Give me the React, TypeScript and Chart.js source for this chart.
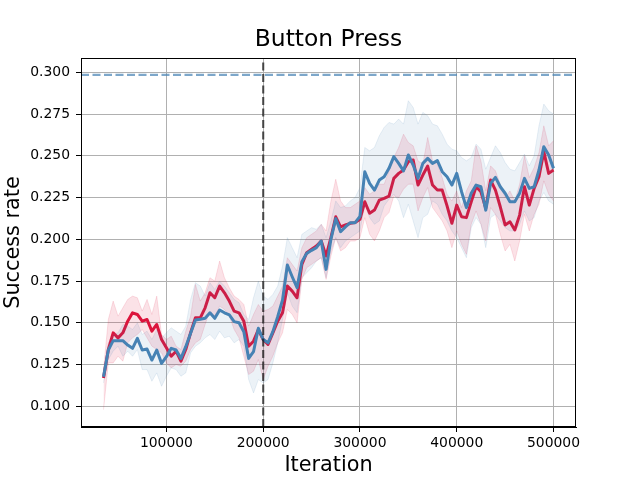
import React, { useEffect, useRef } from "react";
import { Chart, registerables } from "chart.js";

Chart.register(...registerables);

// ---- data ----
const iterations = [
  35000, 40000, 45000, 50000, 55000, 60000, 65000, 70000, 75000, 80000,
  85000, 90000, 95000, 100000, 105000, 110000, 115000, 120000, 125000, 130000,
  135000, 140000, 145000, 150000, 155000, 160000, 165000, 170000, 175000, 180000,
  185000, 190000, 195000, 200000, 205000, 210000, 215000, 220000, 225000, 230000,
  235000, 240000, 245000, 250000, 255000, 260000, 265000, 270000, 275000, 280000,
  285000, 290000, 295000, 300000, 305000, 310000, 315000, 320000, 325000, 330000,
  335000, 340000, 345000, 350000, 355000, 360000, 365000, 370000, 375000, 380000,
  385000, 390000, 395000, 400000, 405000, 410000, 415000, 420000, 425000, 430000,
  435000, 440000, 445000, 450000, 455000, 460000, 465000, 470000, 475000, 480000,
  485000, 490000, 495000, 500000,
];

const redMean = [
  0.117, 0.134, 0.144, 0.141, 0.144, 0.151, 0.156, 0.155, 0.151, 0.152,
  0.145, 0.149, 0.140, 0.135, 0.130, 0.133, 0.127, 0.134, 0.144, 0.153,
  0.153, 0.159, 0.168, 0.165, 0.172, 0.168, 0.163, 0.157, 0.156, 0.151,
  0.136, 0.139, 0.146, 0.140, 0.137, 0.144, 0.151, 0.156, 0.172, 0.169,
  0.165, 0.185, 0.192, 0.194, 0.196, 0.199, 0.190, 0.201, 0.2135, 0.2075,
  0.2086, 0.2096, 0.2100, 0.2120, 0.2225, 0.2156, 0.2175, 0.2235, 0.2245, 0.2259,
  0.2365, 0.2395, 0.2415, 0.2465, 0.2475, 0.2325, 0.2385, 0.2439, 0.2325, 0.2295,
  0.2295, 0.2200, 0.2096, 0.2205, 0.2135, 0.2130, 0.2225, 0.2315, 0.2285, 0.2186,
  0.2355, 0.2295, 0.2195, 0.2086, 0.2105, 0.2056, 0.2145, 0.2315, 0.2205, 0.2305,
  0.2375, 0.2525, 0.2395, 0.2415,
];

const redUpper = [
  0.122, 0.152, 0.163, 0.154, 0.159, 0.164, 0.166, 0.165, 0.157, 0.164,
  0.155, 0.166, 0.143, 0.140, 0.142, 0.136, 0.134, 0.145, 0.154, 0.173,
  0.163, 0.168, 0.177, 0.175, 0.187, 0.177, 0.171, 0.166, 0.164, 0.161,
  0.148, 0.155, 0.161, 0.157, 0.158, 0.160, 0.166, 0.172, 0.189, 0.185,
  0.181, 0.195, 0.201, 0.203, 0.205, 0.209, 0.205, 0.223, 0.236, 0.223,
  0.219, 0.219, 0.221, 0.223, 0.231, 0.227, 0.229, 0.233, 0.233, 0.241,
  0.249, 0.255, 0.263, 0.258, 0.256, 0.247, 0.245, 0.261, 0.247, 0.245,
  0.237, 0.227, 0.223, 0.229, 0.219, 0.229, 0.235, 0.256, 0.247, 0.229,
  0.244, 0.241, 0.233, 0.225, 0.229, 0.223, 0.233, 0.250, 0.237, 0.243,
  0.252, 0.268, 0.256, 0.259,
];

const redLower = [
  0.098, 0.126, 0.126, 0.130, 0.127, 0.138, 0.141, 0.143, 0.146, 0.141,
  0.136, 0.134, 0.132, 0.126, 0.123, 0.125, 0.124, 0.127, 0.134, 0.138,
  0.140, 0.149, 0.157, 0.154, 0.160, 0.158, 0.154, 0.146, 0.141, 0.130,
  0.119, 0.121, 0.128, 0.116, 0.124, 0.130, 0.138, 0.144, 0.158, 0.155,
  0.150, 0.176, 0.183, 0.185, 0.187, 0.189, 0.176, 0.190, 0.201, 0.193,
  0.195, 0.199, 0.199, 0.201, 0.213, 0.203, 0.199, 0.205, 0.213, 0.216,
  0.226, 0.225, 0.230, 0.233, 0.233, 0.217, 0.225, 0.231, 0.219, 0.215,
  0.211, 0.205, 0.195, 0.205, 0.197, 0.191, 0.209, 0.217, 0.209, 0.199,
  0.219, 0.215, 0.203, 0.193, 0.197, 0.187, 0.199, 0.215, 0.205, 0.215,
  0.221, 0.235, 0.227, 0.223,
];

const blueMean = [
  0.1177, 0.1337, 0.1393, 0.1393, 0.1393, 0.1367, 0.1347, 0.1407, 0.1337, 0.1343,
  0.1277, 0.1337, 0.1257, 0.1297, 0.1347, 0.1337, 0.1287, 0.1357, 0.1437, 0.1517,
  0.1521, 0.1527, 0.1560, 0.1527, 0.1577, 0.1560, 0.1547, 0.1507, 0.1500, 0.1447,
  0.1287, 0.1327, 0.1467, 0.1400, 0.1380, 0.1447, 0.1537, 0.1637, 0.1846, 0.1776,
  0.1710, 0.1866, 0.1916, 0.1934, 0.1950, 0.1990, 0.1820, 0.2000, 0.2124, 0.2046,
  0.2074, 0.2100, 0.2100, 0.2138, 0.2405, 0.2335, 0.2295, 0.2355, 0.2375, 0.2425,
  0.2495, 0.2455, 0.2410, 0.2505, 0.2445, 0.2365, 0.2455, 0.2485, 0.2455, 0.2471,
  0.2405, 0.2375, 0.2325, 0.2395, 0.2285, 0.2190, 0.2276, 0.2325, 0.2315, 0.2175,
  0.2335, 0.2371, 0.2315, 0.2276, 0.2225, 0.2225, 0.2276, 0.2365, 0.2305, 0.2315,
  0.2415, 0.2555, 0.2505, 0.2425,
];

const blueUpper = [
  0.120, 0.138, 0.143, 0.144, 0.149, 0.148, 0.146, 0.150, 0.143, 0.145,
  0.140, 0.146, 0.141, 0.144, 0.147, 0.145, 0.143, 0.148, 0.164, 0.174,
  0.172, 0.166, 0.174, 0.170, 0.175, 0.172, 0.168, 0.164, 0.162, 0.155,
  0.152, 0.165, 0.175, 0.166, 0.164, 0.167, 0.172, 0.184, 0.201, 0.195,
  0.189, 0.203, 0.205, 0.207, 0.206, 0.209, 0.201, 0.211, 0.223, 0.219,
  0.220, 0.223, 0.225, 0.231, 0.255, 0.253, 0.255, 0.262, 0.267, 0.270,
  0.269, 0.272, 0.269, 0.283, 0.279, 0.269, 0.276, 0.274, 0.269, 0.268,
  0.263, 0.257, 0.254, 0.253, 0.249, 0.247, 0.249, 0.257, 0.254, 0.242,
  0.249, 0.256, 0.252, 0.246, 0.242, 0.241, 0.246, 0.251, 0.244, 0.250,
  0.268, 0.281, 0.277, 0.275,
];

const blueLower = [
  0.114, 0.128, 0.133, 0.136, 0.130, 0.133, 0.130, 0.134, 0.122, 0.122,
  0.115, 0.120, 0.112, 0.118, 0.123, 0.122, 0.118, 0.120, 0.132, 0.136,
  0.138, 0.141, 0.143, 0.140, 0.145, 0.141, 0.142, 0.138, 0.140, 0.136,
  0.116, 0.108, 0.116, 0.114, 0.116, 0.126, 0.138, 0.152, 0.168, 0.160,
  0.156, 0.177, 0.180, 0.183, 0.187, 0.189, 0.177, 0.193, 0.201, 0.195,
  0.199, 0.201, 0.203, 0.205, 0.221, 0.213, 0.209, 0.211, 0.220, 0.224,
  0.227, 0.223, 0.213, 0.221, 0.211, 0.201, 0.213, 0.215, 0.223, 0.221,
  0.215, 0.211, 0.205, 0.201, 0.195, 0.189, 0.207, 0.213, 0.209, 0.195,
  0.213, 0.215, 0.211, 0.207, 0.205, 0.205, 0.209, 0.217, 0.211, 0.213,
  0.223, 0.228, 0.223, 0.221,
];

const xTicks = [100000, 200000, 300000, 400000, 500000];
const yTicks = [0.1, 0.125, 0.15, 0.175, 0.2, 0.225, 0.25, 0.275, 0.3];
const xLimits = [11750, 523250];
const yLimits = [0.0876, 0.3086];
const referenceRate = 0.2985;
const switchIteration = 200000;

const chartTitle = "Button Press";
const xLabel = "Iteration";
const yLabel = "Success rate";

// ---- styles ----
const FONT = "'DejaVu Sans', 'Liberation Sans', sans-serif";
const RED = "#DC143C";
const BLUE = "#4682B4";

const toPoints = (vals: number[]) => iterations.map((it, i) => ({ x: it, y: vals[i] }));

const overlayPlugin = {
  id: "overlayLines",
  afterDatasetsDraw(chart: any) {
    const { ctx, chartArea: a, scales } = chart;
    const x = scales.x;
    const y = scales.y;
    ctx.save();
    ctx.beginPath();
    ctx.rect(a.left, a.top, a.right - a.left, a.bottom - a.top);
    ctx.clip();
    const yp = y.getPixelForValue(referenceRate);
    ctx.strokeStyle = "rgba(70,130,180,0.7)";
    ctx.lineWidth = 2.2;
    ctx.setLineDash([8, 3.5]);
    ctx.beginPath();
    ctx.moveTo(a.left, yp);
    ctx.lineTo(a.right, yp);
    ctx.stroke();
    const xp = x.getPixelForValue(switchIteration);
    ctx.strokeStyle = "rgba(0,0,0,0.62)";
    ctx.lineWidth = 2.2;
    ctx.setLineDash([8, 3.5]);
    ctx.beginPath();
    ctx.moveTo(xp, a.bottom);
    ctx.lineTo(xp, a.top);
    ctx.stroke();
    ctx.restore();
  },
  afterDraw(chart: any) {
    const { ctx, chartArea: a } = chart;
    ctx.save();
    ctx.strokeStyle = "#000";
    ctx.lineWidth = 1;
    ctx.setLineDash([]);
    ctx.strokeRect(Math.round(a.left) + 0.5, Math.round(a.top) + 0.5, Math.round(a.right - a.left) - 1, Math.round(a.bottom - a.top) - 1);
    ctx.restore();
  },
};

export default function App() {
  const canvasRef = useRef<HTMLCanvasElement | null>(null);

  useEffect(() => {
    document.body.style.margin = "0";
    const canvas = canvasRef.current;
    if (!canvas) return;
    Chart.defaults.font.family = FONT;
    Chart.defaults.color = "#000";

    const bandLine = (c: string) => ({
      pointRadius: 0,
      pointHoverRadius: 0,
      tension: 0,
      borderWidth: 1,
      borderColor: c,
    });

    const chart = new Chart(canvas, {
      type: "line",
      data: {
        datasets: [
          {
            label: "red upper",
            data: toPoints(redUpper),
            ...bandLine("rgba(220,20,60,0.12)"),
            backgroundColor: "rgba(220,20,60,0.12)",
            fill: "+1",
            order: 6,
          },
          {
            label: "red lower",
            data: toPoints(redLower),
            ...bandLine("rgba(220,20,60,0.12)"),
            fill: false,
            order: 5,
          },
          {
            label: "red",
            data: toPoints(redMean),
            borderColor: RED,
            borderWidth: 3,
            pointRadius: 0,
            tension: 0,
            fill: false,
            borderJoinStyle: "round",
            order: 4,
          },
          {
            label: "blue upper",
            data: toPoints(blueUpper),
            ...bandLine("rgba(70,130,180,0.12)"),
            backgroundColor: "rgba(70,130,180,0.1)",
            fill: "+1",
            order: 3,
          },
          {
            label: "blue lower",
            data: toPoints(blueLower),
            ...bandLine("rgba(70,130,180,0.12)"),
            fill: false,
            order: 2,
          },
          {
            label: "blue",
            data: toPoints(blueMean),
            borderColor: BLUE,
            borderWidth: 3,
            pointRadius: 0,
            tension: 0,
            fill: false,
            borderJoinStyle: "round",
            order: 1,
          },
        ],
      },
      options: {
        animation: false,
        responsive: false,
        devicePixelRatio: 1,
        events: [],
        layout: { padding: { left: 0, right: 64, top: 0, bottom: 0 } },
        plugins: {
          legend: { display: false },
          tooltip: { enabled: false },
          title: { display: false },
        },
        scales: {
          x: {
            type: "linear",
            min: xLimits[0],
            max: xLimits[1],
            afterBuildTicks: (s: any) => {
              s.ticks = xTicks.map((v) => ({ value: v }));
            },
            afterFit: (s: any) => {
              s.height = 53;
            },
            ticks: {
              color: "#000",
              font: { family: FONT, size: 13.9 },
              padding: 3,
              maxRotation: 0,
              autoSkip: false,
              callback: (v: any) => String(v),
            },
            grid: {
              color: "#b0b0b0",
              lineWidth: 1,
              tickColor: "#000",
              tickLength: 5,
              drawTicks: true,
            },
            border: { display: true, color: "#000", width: 1 },
            title: {
              display: true,
              text: xLabel,
              color: "#000",
              font: { family: FONT, size: 20.8 },
              padding: { top: 0, bottom: 2.4 },
            },
          },
          titleAxis: {
            type: "linear",
            position: "top",
            min: 0,
            max: 1,
            afterFit: (s: any) => {
              s.height = 58;
            },
            ticks: { display: false },
            grid: { display: false, drawTicks: false },
            border: { display: false },
            title: {
              display: true,
              text: chartTitle,
              color: "#000",
              font: { family: FONT, size: 23.4 },
              padding: { top: 25.6, bottom: 0 },
            },
          },
          y: {
            type: "linear",
            min: yLimits[0],
            max: yLimits[1],
            afterBuildTicks: (s: any) => {
              s.ticks = yTicks.map((v) => ({ value: v }));
            },
            afterFit: (s: any) => {
              s.width = 81;
            },
            ticks: {
              color: "#000",
              font: { family: FONT, size: 13.9 },
              padding: 6,
              autoSkip: false,
              callback: (v: any) => Number(v).toFixed(3),
            },
            grid: {
              color: "#b0b0b0",
              lineWidth: 1,
              tickColor: "#000",
              tickLength: 5,
              drawTicks: true,
            },
            border: { display: true, color: "#000", width: 1 },
            title: {
              display: true,
              text: yLabel,
              color: "#000",
              font: { family: FONT, size: 20.8 },
              padding: { top: 1, bottom: 0 },
            },
          },
        },
      },
      plugins: [overlayPlugin],
    } as any);

    return () => chart.destroy();
  }, []);

  return (
    <div style={{ position: "absolute", left: 0, top: 0, width: 640, height: 480, background: "#fff" }}>
      <canvas ref={canvasRef} width={640} height={480} style={{ width: 640, height: 480, display: "block" }} />
    </div>
  );
}
